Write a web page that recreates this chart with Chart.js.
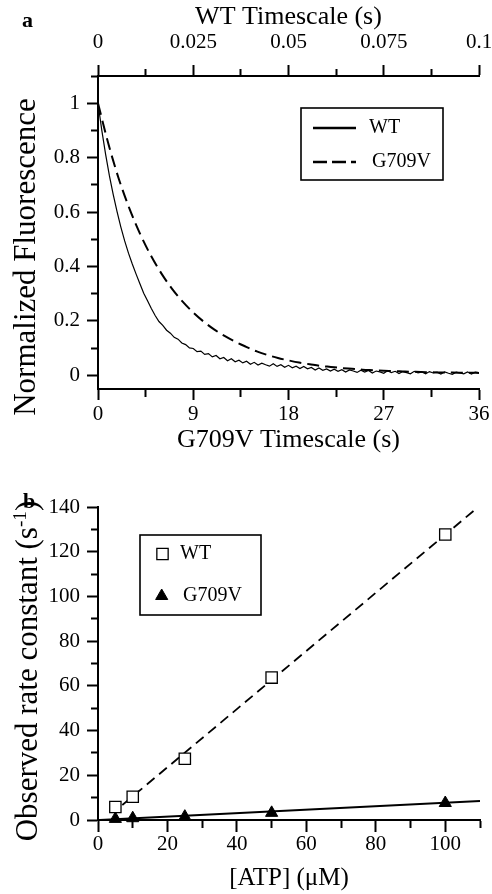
<!DOCTYPE html>
<html>
<head>
<meta charset="utf-8">
<title>WT vs G709V fluorescence and rate constants</title>
<script src="https://cdn.jsdelivr.net/npm/chart.js@4.4.1/dist/chart.umd.min.js"></script>
<style>
  html, body { margin: 0; padding: 0; background: #fff; }
  body {
    width: 492px; height: 894px; position: relative; overflow: hidden;
    font-family: "Liberation Serif", "Times New Roman", serif; color: #000;
  }
  canvas { position: absolute; left: 0; }
  #chart-a { top: 0; }
  #chart-b { top: 460px; }
  .panel-letter { position: absolute; font-weight: bold; font-size: 22px; line-height: 1; }
  .y-title {
    position: absolute; white-space: nowrap; font-size: 31px; line-height: 1;
    transform: translate(-50%, -50%) rotate(-90deg);
  }
  .y-title .sup { font-size: 0.62em; position: relative; top: -0.55em; }
</style>
</head>
<body>
<canvas id="chart-a" width="492" height="460"></canvas>
<canvas id="chart-b" width="492" height="434"></canvas>
<div class="panel-letter" style="left:22px;top:9px">a</div>
<div class="panel-letter" style="left:23px;top:490px">b</div>
<div class="y-title" style="left:24px;top:257px">Normalized Fluorescence</div>
<div class="y-title" style="left:26px;top:671px">Observed rate constant (s<span class="sup">-1</span>)</div>
<script>
// ---- panel a: fluorescence traces ----
// WT trace, on the WT timescale (top axis, s)
const wtTime = [
  0.000, 0.001, 0.002, 0.003, 0.004, 0.005, 0.006, 0.007, 0.008, 0.009,
  0.010, 0.011, 0.012, 0.013, 0.014, 0.015, 0.016, 0.017, 0.018, 0.019,
  0.020, 0.021, 0.022, 0.023, 0.024, 0.025, 0.026, 0.027, 0.028, 0.029,
  0.030, 0.031, 0.032, 0.033, 0.034, 0.035, 0.036, 0.037, 0.038, 0.039,
  0.040, 0.041, 0.042, 0.043, 0.044, 0.045, 0.046, 0.047, 0.048, 0.049,
  0.050, 0.051, 0.052, 0.053, 0.054, 0.055, 0.056, 0.057, 0.058, 0.059,
  0.060, 0.061, 0.062, 0.063, 0.064, 0.065, 0.066, 0.067, 0.068, 0.069,
  0.070, 0.071, 0.072, 0.073, 0.074, 0.075, 0.076, 0.077, 0.078, 0.079,
  0.080, 0.081, 0.082, 0.083, 0.084, 0.085, 0.086, 0.087, 0.088, 0.089,
  0.090, 0.091, 0.092, 0.093, 0.094, 0.095, 0.096, 0.097, 0.098, 0.099,
  0.100
];
const wtFluor = [
  1.000, 0.900, 0.812, 0.733, 0.664, 0.602, 0.545, 0.494, 0.449, 0.409,
  0.372, 0.337, 0.302, 0.274, 0.246, 0.220, 0.198, 0.184, 0.166, 0.155,
  0.140, 0.133, 0.119, 0.113, 0.101, 0.099, 0.087, 0.089, 0.077, 0.080,
  0.068, 0.073, 0.061, 0.066, 0.054, 0.061, 0.050, 0.056, 0.046, 0.052,
  0.041, 0.048, 0.038, 0.045, 0.039, 0.034, 0.043, 0.033, 0.039, 0.030,
  0.037, 0.028, 0.034, 0.025, 0.033, 0.024, 0.029, 0.020, 0.027, 0.019,
  0.024, 0.016, 0.023, 0.015, 0.021, 0.012, 0.020, 0.016, 0.011, 0.019,
  0.012, 0.018, 0.009, 0.016, 0.013, 0.008, 0.017, 0.010, 0.015, 0.007,
  0.014, 0.010, 0.006, 0.015, 0.009, 0.013, 0.006, 0.014, 0.009, 0.012,
  0.005, 0.013, 0.008, 0.004, 0.012, 0.009, 0.006, 0.013, 0.005, 0.012,
  0.010
];
// G709V trace, on the G709V timescale (bottom axis, s)
const g709vTime = [
  0, 1, 2, 3, 4, 5, 6, 7, 8, 9, 10, 11, 12, 13, 14, 15, 16, 17, 18,
  19, 20, 21, 22, 23, 24, 25, 26, 27, 28, 29, 30, 31, 32, 33, 34, 35, 36
];
const g709vFluor = [
  1.000, 0.848, 0.718, 0.610, 0.518, 0.440, 0.374, 0.318, 0.271, 0.231,
  0.197, 0.168, 0.144, 0.123, 0.105, 0.088, 0.075, 0.064, 0.055, 0.047,
  0.041, 0.035, 0.031, 0.027, 0.024, 0.021, 0.019, 0.017, 0.016, 0.014,
  0.013, 0.012, 0.011, 0.011, 0.010, 0.010, 0.009
];
const wtTopTicks = [0, 0.0125, 0.025, 0.0375, 0.05, 0.0625, 0.075, 0.0875, 0.1];
const wtTopLabels = ['0', '', '0.025', '', '0.05', '', '0.075', '', '0.1'];
const g709vTicks = [0, 4.5, 9, 13.5, 18, 22.5, 27, 31.5, 36];
const g709vLabels = ['0', '', '9', '', '18', '', '27', '', '36'];
const fluorTicks = [0, 0.1, 0.2, 0.3, 0.4, 0.5, 0.6, 0.7, 0.8, 0.9, 1.0, 1.1];
const fluorLabels = ['0', '', '0.2', '', '0.4', '', '0.6', '', '0.8', '', '1', ''];

// ---- panel b: rate constant vs [ATP] ----
const atpConc = [5, 10, 25, 50, 100];
const wtRate = [5.8, 10.4, 27.4, 63.7, 127.7];
const g709vRate = [0.5, 0.8, 1.5, 3.2, 7.6];
const wtFitX = [7, 108.5];
const wtFitY = [6.7, 138.7];
const g709vFitX = [0.5, 110];
const g709vFitY = [0, 8.5];
const atpTicks = [0, 10, 20, 30, 40, 50, 60, 70, 80, 90, 100, 110];
const atpLabels = ['0', '', '20', '', '40', '', '60', '', '80', '', '100', ''];
const rateTicks = [0, 10, 20, 30, 40, 50, 60, 70, 80, 90, 100, 110, 120, 130, 140];
const rateLabels = ['0', '', '20', '', '40', '', '60', '', '80', '', '100', '', '120', '', '140'];

const serif = '"Liberation Serif", "Times New Roman", serif';
const tickFont = { family: serif, size: 21 };
const titleFont = { family: serif, size: 26 };

function points(xs, ys) {
    return xs.map((x, i) => ({ x: x, y: ys[i] }));
}

// axis with major ticks (labelled) and shorter minor ticks
function axis(opts) {
    const len = opts.tickLength;
    const minor = opts.minorLength;
    // top and left ticks are stroked from the outer end towards the axis line
    const fromOuter = opts.position === 'top' || opts.position === 'left';
    const isHorizontal = opts.position === 'top' || opts.position === 'bottom';
    return {
        type: 'linear',
        position: opts.position,
        min: opts.min,
        max: opts.max,
        afterBuildTicks: (scale) => {
            scale.ticks = opts.ticks.map(v => ({ value: v }));
        },
        afterFit: (scale) => {
            if (isHorizontal) {
                scale.height = opts.size;
                scale.paddingLeft = 0;
                scale.paddingRight = 0;
            } else {
                scale.width = opts.size;
                scale.paddingTop = 0;
                scale.paddingBottom = 0;
            }
        },
        border: { display: true, color: '#000', width: 2 },
        grid: {
            display: true,
            drawOnChartArea: false,
            drawTicks: true,
            tickLength: len,
            tickWidth: 2,
            tickColor: '#000',
            tickBorderDash: (ctx) => {
                if (opts.labels[ctx.index]) return [];
                return fromOuter ? [0, len - minor, minor, 100] : [minor, 100];
            }
        },
        ticks: {
            autoSkip: false,
            maxRotation: 0,
            minRotation: 0,
            color: '#000',
            font: tickFont,
            padding: opts.padding,
            callback: (value, index) => opts.labels[index]
        },
        title: opts.title ? {
            display: true,
            text: opts.title,
            color: '#000',
            font: opts.titleFont || titleFont,
            padding: opts.titlePadding
        } : { display: false }
    };
}

// boxed legend drawn inside the plot
function boxLegend(cfg) {
    return {
        id: 'boxLegend',
        afterDraw(chart) {
            const ctx = chart.ctx;
            ctx.save();
            ctx.strokeStyle = '#000';
            ctx.fillStyle = '#000';
            ctx.lineWidth = 1.6;
            ctx.strokeRect(cfg.left, cfg.top, cfg.width, cfg.height);
            ctx.font = cfg.font;
            ctx.textBaseline = 'middle';
            cfg.items.forEach(item => {
                const ds = chart.data.datasets[item.dataset];
                if (item.line) {
                    ctx.lineWidth = item.lineWidth;
                    ctx.setLineDash(item.dash || []);
                    ctx.beginPath();
                    ctx.moveTo(item.x0, item.y);
                    ctx.lineTo(item.x1, item.y);
                    ctx.stroke();
                    ctx.setLineDash([]);
                } else {
                    ctx.fillStyle = ds.pointBackgroundColor;
                    ctx.strokeStyle = ds.pointBorderColor;
                    ctx.lineWidth = ds.pointBorderWidth;
                    Chart.helpers.drawPoint(ctx, {
                        pointStyle: ds.pointStyle,
                        radius: ds.pointRadius,
                        borderWidth: ds.pointBorderWidth,
                        rotation: 0
                    }, item.x0, item.y);
                    ctx.fillStyle = '#000';
                    ctx.strokeStyle = '#000';
                }
                ctx.fillText(ds.label, item.textX, item.y);
            });
            ctx.restore();
        }
    };
}

new Chart(document.getElementById('chart-a'), {
    type: 'line',
    data: {
        datasets: [{
            label: 'WT',
            data: points(wtTime, wtFluor),
            xAxisID: 'xTop',
            yAxisID: 'y',
            borderColor: '#000',
            borderWidth: 1.2,
            pointRadius: 0,
            tension: 0
        }, {
            label: 'G709V',
            data: points(g709vTime, g709vFluor),
            xAxisID: 'x',
            yAxisID: 'y',
            borderColor: '#000',
            borderWidth: 2,
            borderDash: [12, 6],
            pointRadius: 0,
            cubicInterpolationMode: 'monotone'
        }]
    },
    options: {
        responsive: false,
        animation: false,
        devicePixelRatio: 1,
        layout: { padding: { top: 0, right: 13, bottom: 0, left: 0 } },
        plugins: { legend: { display: false }, tooltip: { enabled: false } },
        scales: {
            xTop: axis({
                position: 'top', min: 0, max: 0.1, ticks: wtTopTicks, labels: wtTopLabels,
                tickLength: 11, minorLength: 7, padding: 10, size: 76,
                title: 'WT Timescale (s)', titlePadding: { top: 2, bottom: 0 }
            }),
            x: axis({
                position: 'bottom', min: 0, max: 36, ticks: g709vTicks, labels: g709vLabels,
                tickLength: 11, minorLength: 7, padding: 2, size: 71,
                title: 'G709V Timescale (s)', titlePadding: { top: 0, bottom: 4 }
            }),
            y: axis({
                position: 'left', min: -0.05, max: 1.1, ticks: fluorTicks, labels: fluorLabels,
                tickLength: 11, minorLength: 7, padding: 7, size: 98
            })
        }
    },
    plugins: [boxLegend({
        left: 301, top: 108, width: 142, height: 72,
        font: '20px ' + serif,
        items: [
            { dataset: 0, line: true, lineWidth: 2.5, x0: 313, x1: 356, y: 128, textX: 369 },
            { dataset: 1, line: true, lineWidth: 2.5, dash: [14, 5], x0: 313, x1: 356, y: 162, textX: 372 }
        ]
    })]
});

new Chart(document.getElementById('chart-b'), {
    type: 'line',
    data: {
        datasets: [{
            label: 'WT',
            data: points(atpConc, wtRate),
            showLine: false,
            pointStyle: 'rect',
            pointRadius: 8,
            pointBackgroundColor: '#fff',
            pointBorderColor: '#000',
            pointBorderWidth: 1.3,
            clip: false
        }, {
            label: 'G709V',
            data: points(atpConc, g709vRate),
            showLine: false,
            pointStyle: 'triangle',
            pointRadius: 7,
            pointBackgroundColor: '#000',
            pointBorderColor: '#000',
            pointBorderWidth: 1,
            clip: false
        }, {
            label: 'WT fit',
            data: points(wtFitX, wtFitY),
            borderColor: '#000',
            borderWidth: 1.8,
            borderDash: [10, 6],
            pointRadius: 0
        }, {
            label: 'G709V fit',
            data: points(g709vFitX, g709vFitY),
            borderColor: '#000',
            borderWidth: 2,
            pointRadius: 0
        }]
    },
    options: {
        responsive: false,
        animation: false,
        devicePixelRatio: 1,
        layout: { padding: { top: 47, right: 12, bottom: 0, left: 0 } },
        plugins: { legend: { display: false }, tooltip: { enabled: false } },
        scales: {
            x: axis({
                position: 'bottom', min: 0, max: 110, ticks: atpTicks, labels: atpLabels,
                tickLength: 12, minorLength: 7, padding: 0, size: 74,
                title: '[ATP] (\u03bcM)', titleFont: { family: serif, size: 25 },
                titlePadding: { top: 0, bottom: 1 }
            }),
            y: axis({
                position: 'left', min: 0, max: 140, ticks: rateTicks, labels: rateLabels,
                tickLength: 11, minorLength: 7, padding: 7, size: 98
            })
        }
    },
    plugins: [boxLegend({
        left: 140, top: 75, width: 121, height: 80,
        font: '20px ' + serif,
        items: [
            { dataset: 0, x0: 162.5, y: 94, textX: 180 },
            { dataset: 1, x0: 161.7, y: 136, textX: 183 }
        ]
    })]
});
</script>
</body>
</html>
